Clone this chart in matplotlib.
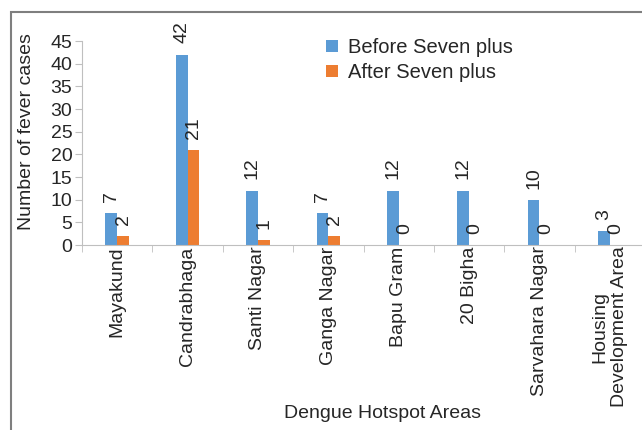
import matplotlib
matplotlib.use('Agg')
import matplotlib.pyplot as plt
from matplotlib.patches import Rectangle
import numpy as np

# 数据
areas = ['Mayakund', 'Candrabhaga', 'Santi Nagar', 'Ganga Nagar', 'Bapu Gram',
         '20 Bigha', 'Sarvahara Nagar', 'Housing\nDevelopment Area']
before = [7, 42, 12, 7, 12, 12, 10, 3]
after = [2, 21, 1, 2, 0, 0, 0, 0]
series_names = ['Before Seven plus', 'After Seven plus']
colors = ['#5B9BD5', '#ED7D31']

plt.rcParams['font.family'] = ['Liberation Sans', 'DejaVu Sans']
fs = 14
text_color = '#262626'

fig = plt.figure(figsize=(6.42, 4.30), dpi=100)
# 外框
fig.patches.append(Rectangle((11 / 642, -0.1), 1.2, 1 - 12 / 430 + 0.1,
                             transform=fig.transFigure, fill=False,
                             edgecolor='#7f7f7f', linewidth=1.5))

ax = fig.add_axes([82 / 642, 1 - 245 / 430, 563 / 642, 204 / 430])

x = np.arange(len(areas))
w = 0.167
b1 = ax.bar(x - w / 2, before, w, color=colors[0], label=series_names[0])
b2 = ax.bar(x + w / 2, after, w, color=colors[1], label=series_names[1])

for bars in (b1, b2):
    for rect in bars:
        h = rect.get_height()
        ax.annotate(f'{h:g}', (rect.get_x() + rect.get_width() / 2, h),
                    xytext=(0, 8), textcoords='offset points',
                    rotation=90, ha='center', va='bottom',
                    fontsize=fs, color=text_color)

ax.set_xlim(-0.5, len(areas) - 0.5)
ax.set_ylim(0, 45)
ax.set_yticks(range(0, 46, 5))
ax.set_xticks(x)
ax.set_xticklabels(areas, rotation=90, ha='center', va='top',
                   multialignment='center')
ax.set_xticks(np.arange(-0.5, len(areas), 1), minor=True)
ax.tick_params(axis='x', which='major', length=0, pad=1,
               labelsize=fs, labelcolor=text_color)
ax.tick_params(axis='x', which='minor', length=5, color='#bfbfbf')
ax.tick_params(axis='y', length=5, color='#bfbfbf', labelsize=fs,
               labelcolor=text_color, pad=2)

for s in ['top', 'right']:
    ax.spines[s].set_visible(False)
for s in ['left', 'bottom']:
    ax.spines[s].set_color('#bfbfbf')

fig.text(27 / 642, 1 - 132 / 430, 'Number of fever cases', rotation=90,
         ha='center', va='center', fontsize=fs, color=text_color)
fig.text(383 / 642, 1 - 414 / 430, 'Dengue Hotspot Areas',
         ha='center', va='center', fontsize=fs, color=text_color)

fig.legend(loc='upper left', bbox_to_anchor=(316 / 642, 1 - 28 / 430),
           frameon=False, fontsize=14.5, handlelength=0.6, handleheight=0.6,
           handletextpad=0.5, labelspacing=0.3, borderpad=0,
           labelcolor=text_color)

fig.savefig('out.png', dpi=100)
